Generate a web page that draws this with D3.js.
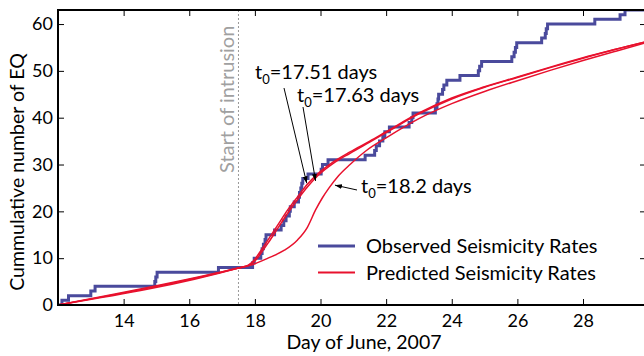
<!DOCTYPE html>
<html>
<head>
<meta charset="utf-8">
<script src="https://cdn.jsdelivr.net/npm/d3@7"></script>
<style>
  body { margin: 0; background: #fff; }
  text { font-family: Lato, "Open Sans", sans-serif; }
</style>
</head>
<body>
<div id="chart"></div>
<script>
// observed cumulative count: [day, count after the step]
const observed = [
  [12.00, 0], [12.12, 1], [12.32, 2], [13.00, 3], [13.13, 4], [14.95, 5], [14.98, 6], [15.02, 7],
  [16.89, 8], [17.93, 9], [17.98, 10], [18.18, 11], [18.22, 12], [18.26, 13], [18.31, 14], [18.34, 15],
  [18.60, 16], [18.80, 17], [18.88, 18], [18.95, 19], [19.05, 20], [19.08, 21], [19.20, 22], [19.33, 23],
  [19.36, 24], [19.40, 25], [19.43, 26], [19.46, 27], [19.62, 28], [20.02, 29], [20.06, 30], [20.23, 31],
  [21.36, 32], [21.65, 33], [21.70, 34], [21.80, 35], [21.90, 36], [21.96, 37], [22.10, 38], [22.70, 39],
  [22.78, 40], [22.82, 41], [23.50, 42], [23.55, 43], [23.58, 44], [23.60, 45], [23.72, 46], [23.76, 47],
  [23.85, 48], [24.25, 49], [24.81, 50], [24.85, 51], [24.91, 52], [25.83, 53], [25.90, 54], [25.94, 55],
  [25.98, 56], [26.74, 57], [26.85, 58], [26.88, 59], [26.92, 60], [28.36, 61], [29.13, 62], [29.28, 63],
  [29.92, 63]
];

// predicted curves
const predT0_1751 = [
  [12, 0], [17.5, 7.9], [17.8, 8.5], [18.0, 9.8], [18.2, 11.8], [18.4, 13.9], [18.7, 17.1], [19.0, 20.3],
  [19.3, 23.1], [19.6, 25.8], [19.9, 27.9], [20.4, 30.6], [20.9, 32.7], [21.5, 35.0], [22.0, 37.0],
  [23.0, 41.0], [24.0, 44.2], [25.0, 46.6], [26.0, 48.7], [27.0, 50.8], [28.0, 52.8], [29.0, 54.6], [29.92, 56.2]
];
const predT0_1763 = [
  [12, 0], [17.5, 7.9], [17.8, 8.4], [18.0, 9.4], [18.2, 11.2], [18.4, 13.2], [18.7, 16.4], [19.0, 19.6],
  [19.3, 22.5], [19.6, 25.2], [19.9, 27.5], [20.4, 30.3], [20.9, 32.4], [21.5, 34.8], [22.0, 36.8],
  [23.0, 40.8], [24.0, 44.0], [25.0, 46.5], [26.0, 48.6], [27.0, 50.7], [28.0, 52.7], [29.0, 54.6], [29.92, 56.2]
];
const predT0_182 = [
  [12, 0], [17.5, 7.9], [18.0, 8.8], [18.4, 10.0], [18.9, 11.7], [19.3, 13.9], [19.6, 16.6], [19.85, 20.3],
  [20.05, 22.8], [20.25, 24.9], [20.55, 27.6], [20.9, 30.0], [21.4, 33.0], [22.0, 35.7], [23.0, 39.8],
  [24.0, 43.0], [25.0, 45.6], [26.0, 47.9], [27.0, 50.1], [28.0, 52.2], [29.0, 54.2], [29.92, 56.0]
];

const xTicks = [14, 16, 18, 20, 22, 24, 26, 28];
const yTicks = [0, 10, 20, 30, 40, 50, 60];
const intrusionDay = 17.5;

const labels = [
  { text: "17.51 days", x: 255, y: 79, tip: [19.58, 26.0], from: [284, 88] },
  { text: "17.63 days", x: 297, y: 102, tip: [19.85, 26.5], from: [303, 107] },
  { text: "18.2 days", x: 361, y: 193, tip: [20.44, 25.6], from: [357, 190] }
];

const legendItems = [
  { label: "Observed Seismicity Rates", color: "#4a4a9c", width: 3 },
  { label: "Predicted Seismicity Rates", color: "#e8112d", width: 2 }
];

const width = 644, height = 356;
const x = d3.scaleLinear().domain([12, 29.92]).range([58, 646]);
const y = d3.scaleLinear().domain([0, 63]).range([305, 10]);

const svg = d3.select("#chart").append("svg")
  .attr("width", width).attr("height", height);

svg.append("defs").append("clipPath").attr("id", "plot")
  .append("rect").attr("x", 58).attr("y", 10).attr("width", 588).attr("height", 295);

svg.select("defs").append("marker")
  .attr("id", "arrow")
  .attr("viewBox", "0 0 10 10")
  .attr("refX", 10).attr("refY", 5)
  .attr("markerWidth", 7).attr("markerHeight", 7)
  .attr("orient", "auto")
  .append("path").attr("d", "M0,1.5L10,5L0,8.5Z").attr("fill", "#000");

// start of intrusion
svg.append("line")
  .attr("x1", x(intrusionDay)).attr("x2", x(intrusionDay))
  .attr("y1", 10).attr("y2", 305)
  .attr("stroke", "#999").attr("stroke-width", 1)
  .attr("stroke-dasharray", "2,2");

svg.append("text")
  .attr("transform", `translate(${x(intrusionDay) - 4},${173}) rotate(-90)`)
  .attr("fill", "#a0a0a0")
  .style("font-size", "20px")
  .text("Start of intrusion");

const plot = svg.append("g").attr("clip-path", "url(#plot)");

const stepLine = d3.line()
  .x(d => x(d[0])).y(d => y(d[1]))
  .curve(d3.curveStepAfter);

plot.append("path")
  .datum(observed)
  .attr("d", stepLine)
  .attr("fill", "none")
  .attr("stroke", "#4a4a9c")
  .attr("stroke-width", 3);

const smooth = d3.line()
  .x(d => x(d[0])).y(d => y(d[1]))
  .curve(d3.curveMonotoneX);

[predT0_1751, predT0_1763, predT0_182].forEach(series => {
  plot.append("path")
    .datum(series)
    .attr("d", smooth)
    .attr("fill", "none")
    .attr("stroke", "#e8112d")
    .attr("stroke-width", 1.5);
});

// frame + ticks
svg.append("rect")
  .attr("x", 58).attr("y", 10).attr("width", 588).attr("height", 295)
  .attr("fill", "none").attr("stroke", "#000").attr("stroke-width", 2);

svg.append("g").attr("transform", "translate(0,305)")
  .call(d3.axisBottom(x).tickValues(xTicks).tickSizeInner(-6).tickSizeOuter(0).tickPadding(9))
  .call(g => g.select(".domain").remove())
  .call(g => g.selectAll("text").style("font-size", "18px").attr("fill", "#000"));

svg.append("g").attr("transform", "translate(0,10)")
  .call(d3.axisTop(x).tickValues(xTicks).tickSizeInner(-6).tickSizeOuter(0).tickFormat(""))
  .call(g => g.select(".domain").remove());

svg.append("g").attr("transform", "translate(58,0)")
  .call(d3.axisLeft(y).tickValues(yTicks).tickSizeInner(-6).tickSizeOuter(0).tickPadding(5))
  .call(g => g.select(".domain").remove())
  .call(g => g.selectAll("text").style("font-size", "18px").attr("fill", "#000"));

svg.append("g").attr("transform", "translate(646,0)")
  .call(d3.axisRight(y).tickValues(yTicks).tickSizeInner(-6).tickSizeOuter(0).tickFormat(""))
  .call(g => g.select(".domain").remove());

svg.selectAll(".tick line").attr("stroke", "#000").attr("stroke-width", 1);

// axis titles
svg.append("text")
  .attr("x", 364).attr("y", 349)
  .attr("text-anchor", "middle")
  .style("font-size", "19.5px")
  .text("Day of June, 2007");

svg.append("text")
  .attr("transform", "translate(24,172) rotate(-90)")
  .attr("text-anchor", "middle")
  .style("font-size", "19.5px")
  .text("Cummulative number of EQ");

// t0 annotations
labels.forEach(d => {
  const t = svg.append("text")
    .attr("x", d.x).attr("y", d.y)
    .style("font-size", "20px");
  t.append("tspan").text("t");
  t.append("tspan").attr("dy", 5).style("font-size", "13px").text("0");
  t.append("tspan").attr("dy", -5).text("=" + d.text);

  svg.append("line")
    .attr("x1", d.from[0]).attr("y1", d.from[1])
    .attr("x2", x(d.tip[0])).attr("y2", y(d.tip[1]))
    .attr("stroke", "#000").attr("stroke-width", 1)
    .attr("marker-end", "url(#arrow)");
});

// legend
const legend = svg.append("g").attr("transform", "translate(318,246)");
legendItems.forEach((d, i) => {
  const row = legend.append("g").attr("transform", `translate(0,${i * 26.5})`);
  row.append("line")
    .attr("x1", 0).attr("x2", 37).attr("y1", 0).attr("y2", 0)
    .attr("stroke", d.color).attr("stroke-width", d.width);
  row.append("text")
    .attr("x", 48).attr("y", 7)
    .style("font-size", "20px")
    .text(d.label);
});
</script>
</body>
</html>
